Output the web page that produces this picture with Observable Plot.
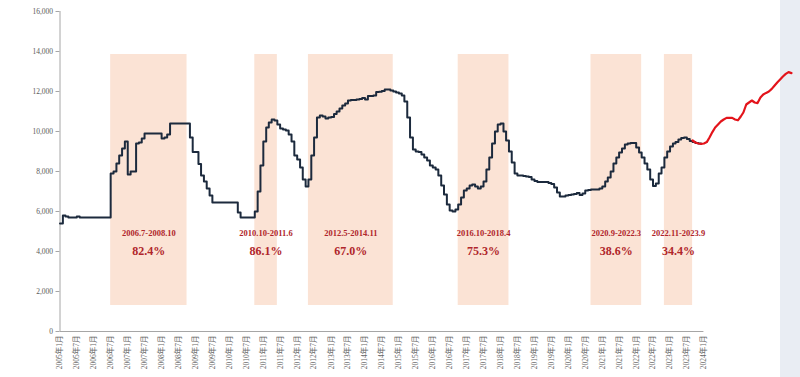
<!DOCTYPE html>
<html><head><meta charset="utf-8">
<script src="https://cdn.jsdelivr.net/npm/d3@7"></script>
<script src="https://cdn.jsdelivr.net/npm/@observablehq/plot@0.6"></script>
<style>
html,body{margin:0;padding:0;background:#fff;}
#wrap{position:relative;width:800px;height:377px;overflow:hidden;}
#strip{position:absolute;left:780px;top:0;width:20px;height:377px;background:#e9edf3;}
#chart{position:absolute;left:0;top:0;}
</style></head><body>
<div id="wrap"><div id="strip"></div><div id="chart"></div></div>
<script>
// ---- data ----
const seriesStart = "2005-01";
const indexValues = [
  5400, 5800, 5750, 5700, 5700, 5700, 5750, 5700, 5700, 5700, 5700, 5700,
  5700, 5700, 5700, 5700, 5700, 5700, 7900, 8000, 8400, 8800, 9150, 9500,
  7850, 8000, 8000, 9400, 9450, 9650, 9900, 9900, 9900, 9900, 9900, 9900,
  9650, 9700, 9850, 10400, 10400, 10400, 10400, 10400, 10400, 10400, 9700, 8970,
  8970, 8380, 7800, 7500, 7150, 6800, 6450, 6450, 6450, 6450, 6450, 6450,
  6450, 6450, 6450, 5950, 5700, 5700, 5700, 5700, 5700, 6000, 7000, 8300,
  9500, 10200, 10450, 10600, 10550, 10350, 10150, 10100, 10050, 9850, 9500, 8800,
  8600, 8200, 7600, 7250, 7600, 8800, 9700, 10700, 10800, 10750, 10650, 10700,
  10720, 10880, 11000, 11150, 11300, 11400, 11550, 11570, 11580, 11600, 11620, 11680,
  11600, 11770, 11780, 11800, 11970, 11990, 12020, 12100, 12100, 12050, 12000, 11950,
  11900, 11800, 11500, 10700, 9700, 9100, 9000, 8970, 8850, 8700, 8550, 8300,
  8200, 8100, 7800, 7300, 6850, 6350, 6050, 6000, 6100, 6350, 6700, 7050,
  7150, 7300, 7350, 7250, 7150, 7250, 7500, 8100, 8700, 9400, 10000, 10350,
  10400, 10000, 9550, 9000, 8450, 7900, 7800, 7800, 7780, 7750, 7720, 7600,
  7520, 7470, 7470, 7480, 7470, 7420, 7380, 7200, 6950, 6750, 6750, 6800,
  6820, 6850, 6880, 6920, 6820, 6900, 7050, 7080, 7100, 7100, 7100, 7150,
  7250, 7500, 7700, 8000, 8400, 8700, 8950, 9150, 9350, 9400, 9430, 9420,
  9200, 8950, 8700, 8400, 8100, 7600, 7280, 7400, 7900, 8200, 8700, 9000,
  9250, 9400, 9480, 9600, 9680, 9700, 9620, 9520, 9480, 9420, 9400, 9380
];
const forecastStart = "2023-09";
const forecastValues = [
  9550, 9450, 9400, 9380, 9400, 9470, 9700, 9970, 10200, 10350, 10500, 10600,
  10680, 10680, 10680, 10600, 10560, 10750, 10950, 11350, 11450, 11550, 11450, 11420,
  11700, 11850, 11930, 12000, 12130, 12300, 12450, 12600, 12750, 12880, 12970, 12920
];
const periodStarts = ["2006-07", "2010-10", "2012-05", "2016-10", "2020-09", "2022-11"];
const periodEnds   = ["2008-10", "2011-06", "2014-11", "2018-04", "2022-03", "2023-09"];
const periodLabels = ["2006.7-2008.10", "2010.10-2011.6", "2012.5-2014.11", "2016.10-2018.4", "2020.9-2022.3", "2022.11-2023.9"];
const periodGains  = ["82.4%", "86.1%", "67.0%", "75.3%", "38.6%", "34.4%"];
const yTicks = [0, 2000, 4000, 6000, 8000, 10000, 12000, 14000, 16000];
const xTickLabels = [
  "2005年1月","2005年7月","2006年1月","2006年7月","2007年1月","2007年7月","2008年1月","2008年7月",
  "2009年1月","2009年7月","2010年1月","2010年7月","2011年1月","2011年7月","2012年1月","2012年7月",
  "2013年1月","2013年7月","2014年1月","2014年7月","2015年1月","2015年7月","2016年1月","2016年7月",
  "2017年1月","2017年7月","2018年1月","2018年7月","2019年1月","2019年7月","2020年1月","2020年7月",
  "2021年1月","2021年7月","2022年1月","2022年7月","2023年1月","2023年7月","2024年1月"
];

// ---- build tables ----
const parseYM = d3.utcParse("%Y-%m");
const parseLabel = s => { const m = s.match(/(\d+)年(\d+)月/); return new Date(Date.UTC(+m[1], +m[2] - 1, 1)); };
const t0 = parseYM(seriesStart);
const main = indexValues.map((v, i) => ({date: d3.utcMonth.offset(t0, i), value: v}));
const tf = parseYM(forecastStart);
const forecast = forecastValues.map((v, i) => ({date: d3.utcMonth.offset(tf, i), value: v}));
const periods = periodStarts.map((s, i) => ({
  start: parseYM(s), end: parseYM(periodEnds[i]), label: periodLabels[i], gain: periodGains[i]
}));
const xTicks = xTickLabels.map(s => ({date: parseLabel(s), label: s}));
const domainEnd = d3.utcMonth.offset(tf, forecastValues.length + 1);

const serif = "'Liberation Serif', 'Noto Sans CJK SC', serif";
const labelRed = "#b0262b";
const mid = d => new Date((+d.start + +d.end) / 2);

const chart = Plot.plot({
  width: 800,
  height: 377,
  marginTop: 11,
  marginBottom: 46,
  marginLeft: 59.5,
  marginRight: 3.4,
  style: {fontFamily: serif, fontSize: "7.5px", color: "#595959", background: "transparent"},
  x: {type: "utc", domain: [t0, domainEnd], axis: null},
  y: {domain: [0, 16000], axis: null, label: null},
  marks: [
    Plot.rect(periods, {x1: "start", x2: "end", y1: 1300, y2: 13850, fill: "#fbe3d5"}),
    Plot.ruleX([t0], {y1: 0, y2: 16000, stroke: "#a6a6a6", strokeWidth: 1}),
    Plot.ruleY([0], {x1: xTicks[0].date, x2: xTicks[xTicks.length - 1].date, stroke: "#a6a6a6", strokeWidth: 1}),
    Plot.axisY({ticks: yTicks, tickFormat: d3.format(","), label: null, tickSize: 4, tickPadding: 3, stroke: "#a6a6a6", fill: "#595959", fontFamily: serif, fontSize: 7.5}),
    Plot.text(xTicks, {x: "date", frameAnchor: "bottom", text: "label", rotate: -90, textAnchor: "end", lineAnchor: "middle", dy: 4, fill: "#666", fontSize: 7.5, fontFamily: serif}),
    Plot.line(main, {x: "date", y: "value", curve: "step-after", stroke: "#1c2a3d", strokeWidth: 2}),
    Plot.line(forecast, {x: "date", y: "value", stroke: "#e3141b", strokeWidth: 2.2}),
    Plot.text(periods, {x: mid, y: 4900, text: "label", fill: labelRed, fontWeight: "bold", fontSize: 8.5, fontFamily: serif, textAnchor: "middle", lineAnchor: "middle"}),
    Plot.text(periods, {x: mid, y: 4000, text: "gain", fill: labelRed, fontWeight: "bold", fontSize: 12, fontFamily: serif, textAnchor: "middle", lineAnchor: "middle"})
  ]
});
document.getElementById("chart").appendChild(chart);
</script>
</body></html>
